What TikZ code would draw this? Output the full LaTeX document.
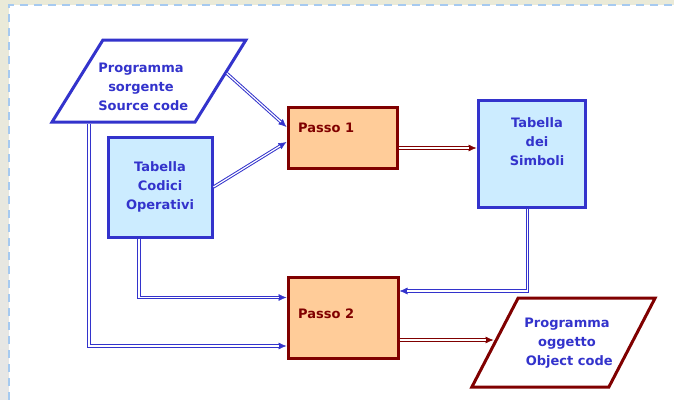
\documentclass[tikz,border=0pt]{standalone}
\usepackage{fontspec}
\setmainfont{DejaVu Sans}
\usetikzlibrary{positioning,arrows.meta,calc}
\definecolor{bordoblu}{HTML}{3333CC}
\definecolor{azzurro}{HTML}{CCECFF}
\definecolor{pesca}{HTML}{FFCC99}
\definecolor{bordeaux}{HTML}{800000}
\definecolor{tratteggio}{HTML}{A6CAF0}
\definecolor{sfondoalto}{HTML}{EAEAD8}
\definecolor{sfondobasso}{HTML}{E6E6E6}
% freccia a doppia linea con punta piena
\newcommand{\frecciadoppia}[2]{%
  \draw[draw=#1, line width=0.6pt, -{Latex[length=8pt,width=7pt]}] #2;
  \draw[draw=#1, line width=1pt, double=white, double distance=1.2pt, shorten >=7.5pt] #2;}

\begin{document}
\begin{tikzpicture}[
    x=1pt, y=-1pt,
    font=\fontsize{13}{19}\selectfont\bfseries,
    datinode/.style={draw=bordoblu, fill=white, line width=3pt, transform shape, inner sep=0pt},
    tabnode/.style={draw=bordoblu, fill=azzurro, line width=3pt, inner sep=0pt, text=bordoblu, align=center},
    passonode/.style={draw=bordeaux, fill=pesca, line width=3pt, inner sep=0pt},
    testoblu/.style={text=bordoblu, align=center, inner sep=0pt},
    testorosso/.style={text=bordeaux, anchor=west, inner sep=0pt}
]
    % Sfondo e cornice tratteggiata
    \useasboundingbox (0,0) rectangle (674,399);
    \shade[top color=sfondoalto, bottom color=sfondobasso] (0,0) rectangle (674,399);
    \fill[white] (9,5) rectangle (680,405);
    \draw[tratteggio, line width=2pt, dash pattern=on 8pt off 6pt] (9,400) -- (9,5) -- (680,5);

    % Ingressi: programma sorgente e tabella codici operativi
    \node[datinode, xslant=0.62, minimum width=143pt, minimum height=82pt] (sorg) at (149,81) {};
    \node[testoblu] (sorgtxt) at (141,87) {Programma\\sorgente\\\ Source code};
    \node[tabnode, minimum width=104pt, minimum height=100pt] (codici) at (160,187) {Tabella\\Codici\\Operativi};

    % Passi dell'assemblatore
    \node[passonode, minimum width=109pt, minimum height=61pt] (passo1) at (342.5,137.5) {};
    \node[testorosso] (passo1txt) at (298,128) {Passo 1};
    \node[passonode, minimum width=110pt, minimum height=81pt] (passo2) at (343,317.5) {};
    \node[testorosso] (passo2txt) at (298,314) {Passo 2};

    % Tabella dei simboli e programma oggetto
    \node[tabnode, minimum width=107pt, minimum height=107pt] (simboli) at (531.5,153.5) {};
    \node[testoblu] (simbolitxt) at (537,142) {Tabella\\dei\\Simboli};
    \node[datinode, draw=bordeaux, xslant=0.52, minimum width=137pt, minimum height=89pt] (oggetto) at (563.5,342.5) {};
    \node[testoblu] (oggettotxt) at (567,343) {Programma\\oggetto\\\ Object code};

    % Frecce verso il passo 1
    \frecciadoppia{bordoblu}{($(sorg.north east)!0.41!(sorg.south east)$) -- ([yshift=10.5pt]passo1.west)}
    \frecciadoppia{bordoblu}{(codici.east) -- ([yshift=-4.5pt]passo1.west)}
    \frecciadoppia{bordeaux}{([yshift=-10.5pt]passo1.east) -- ([yshift=-10.5pt]passo1.east -| simboli.west)}

    % Frecce verso il passo 2
    \frecciadoppia{bordoblu}{([xshift=-4pt]simboli.south) |- ([yshift=26.5pt]passo2.east)}
    \frecciadoppia{bordoblu}{([xshift=-21pt]codici.south) |- ([yshift=20pt]passo2.west)}
    \frecciadoppia{bordoblu}{($(sorg.south west)!0.27!(sorg.south east)$) |- ([yshift=-28.5pt]passo2.west)}
    \frecciadoppia{bordeaux}{([yshift=-22.5pt]passo2.east) -- ([yshift=-22.5pt]passo2.east -| oggetto.west)}
\end{tikzpicture}
\end{document}
